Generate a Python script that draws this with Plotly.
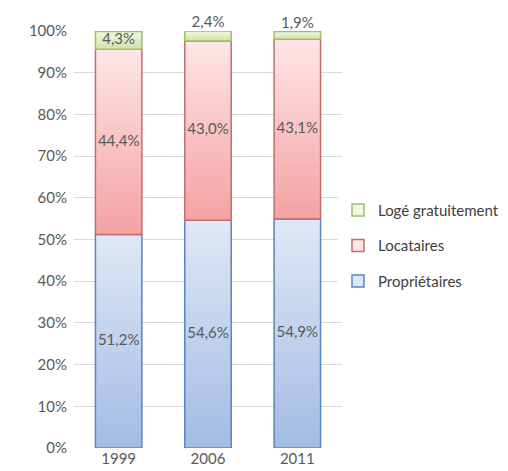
import plotly.graph_objects as go

years = ["1999", "2006", "2011"]
proprietaires = [51.2, 54.6, 54.9]
locataires = [44.4, 43.0, 43.1]
loge = [4.3, 2.4, 1.9]
y_ticks = list(range(0, 101, 10))

series = [
    # name, values, line colour, bottom colour, top colour, legend rank
    ("Propriétaires", proprietaires, "#5b84c0", "#a3bce3", "#dfe8f6", 3),
    ("Locataires", locataires, "#c06f6d", "#f4a2a2", "#fde6e6", 2),
    ("Logé gratuitement", loge, "#9fc066", "#cfe2a6", "#f1f7e3", 1),
]

TEXT = "#595959"
FONT = "Lato, 'Open Sans', sans-serif"
W = 0.26  # half bar width, in category units

fig = go.Figure()
base = [0.0] * len(years)
for name, vals, edge, c_lo, c_hi, rank in series:
    # empty bar only to get a square legend key
    fig.add_bar(x=[None], y=[None], name=name, legendrank=rank, legendgroup=name,
                marker=dict(color=c_hi, line=dict(color=edge, width=1.5)))
    for i, v in enumerate(vals):
        lo, hi = base[i], base[i] + v
        fig.add_scatter(
            x=[i - W, i + W, i + W, i - W, i - W],
            y=[lo, lo, hi, hi, lo],
            mode="lines", fill="toself",
            line=dict(color=edge, width=1.5),
            fillgradient=dict(type="vertical", start=lo, stop=hi,
                              colorscale=[[0, c_lo], [1, c_hi]]),
            showlegend=False, hoverinfo="skip",
        )
    # data labels: centred in segment, small segments labelled above the bar
    inside = [v >= 4 for v in vals]
    fig.add_scatter(
        x=list(range(len(years))),
        y=[b + v / 2 if ok else b + v for b, v, ok in zip(base, vals, inside)],
        mode="text",
        text=[f"{v:.1f}".replace(".", ",") + "%" for v in vals],
        textposition=["middle center" if ok else "top center" for ok in inside],
        textfont=dict(color=TEXT, size=15, family=FONT),
        showlegend=False, hoverinfo="skip", cliponaxis=False,
    )
    base = [b + v for b, v in zip(base, vals)]

fig.update_layout(
    width=508, height=471,
    margin=dict(l=66, r=153, t=23, b=31),
    plot_bgcolor="white", paper_bgcolor="white",
    font=dict(family=FONT, size=15, color=TEXT),
    showlegend=True,
    legend=dict(x=0.985, xanchor="left", y=0.61, yanchor="top",
                tracegroupgap=13, traceorder="grouped",
                font=dict(size=15, color="#404040"), itemwidth=30),
    xaxis=dict(range=[-0.5, 2.5], tickvals=[0, 1, 2], ticktext=years,
               showgrid=False, zeroline=False, showline=False, ticks="",
               tickfont=dict(size=15)),
    yaxis=dict(range=[0, 100], tickvals=y_ticks,
               ticktext=[f"{t}%" for t in y_ticks],
               gridcolor="#d9d9d9", gridwidth=1, zeroline=False, showline=False,
               ticklabelstandoff=6, tickfont=dict(size=15)),
)

fig.write_html("out.html")
